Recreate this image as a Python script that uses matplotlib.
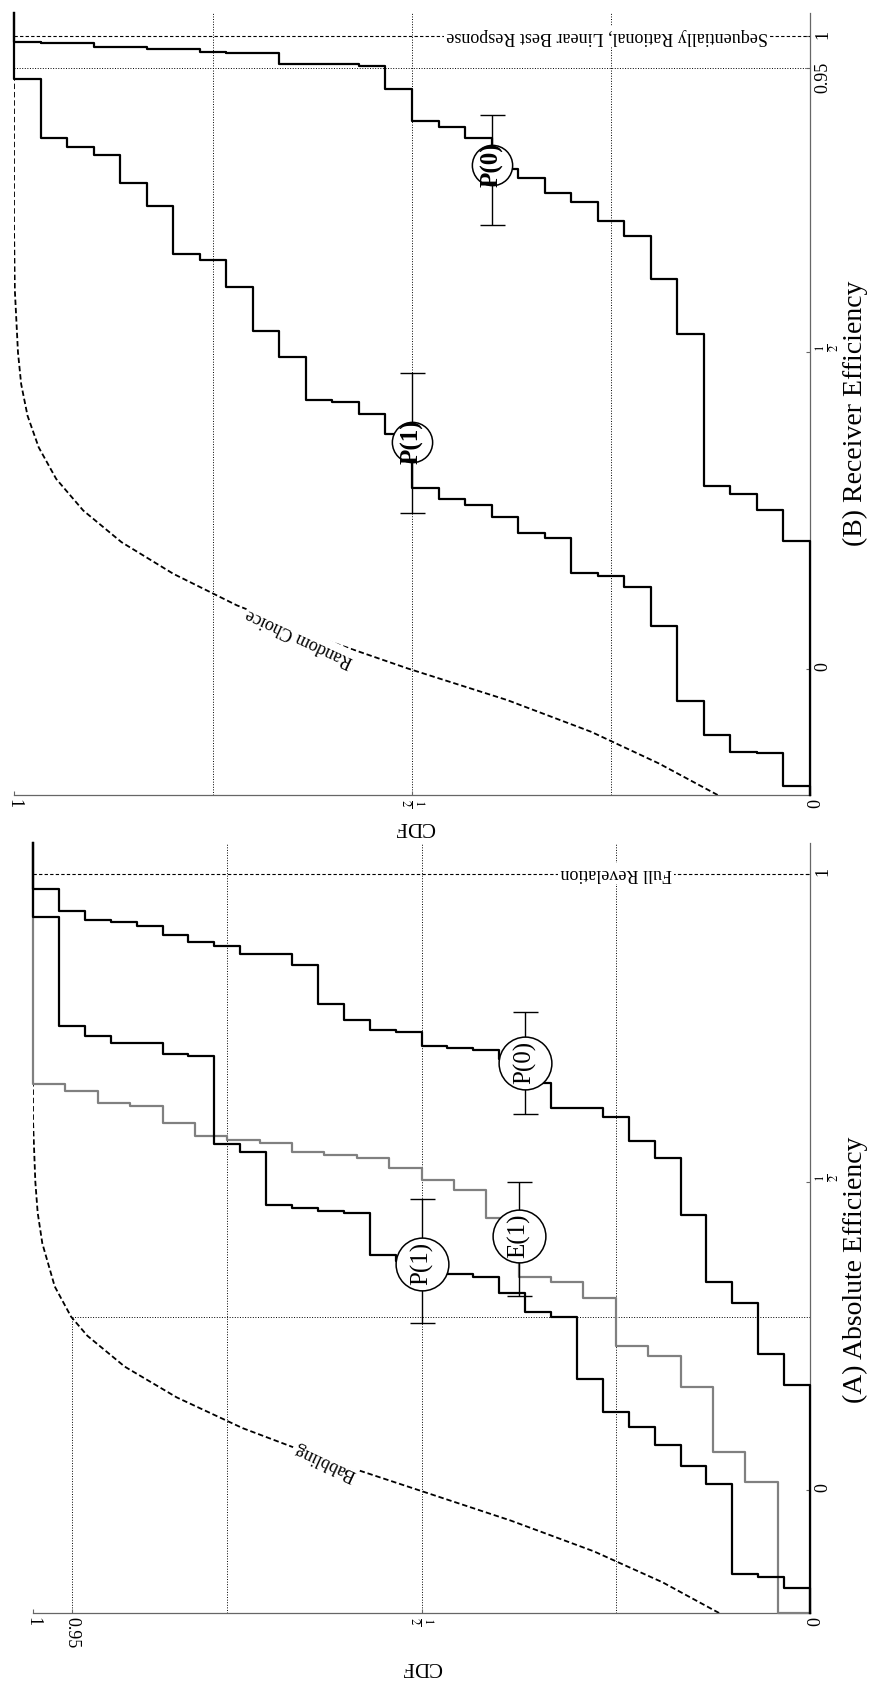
import numpy as np
import matplotlib
matplotlib.use("Agg")
import matplotlib.pyplot as plt

plt.rcParams['font.family'] = ['Liberation Serif', 'DejaVu Serif']
plt.rcParams['mathtext.fontset'] = 'stix'

W, H = 874, 1686
HALF = r'$\frac{1}{2}$'

# (A) absolute efficiency, one value per session
abs_p1 = [-0.159, -0.142, -0.137, 0.009, 0.039, 0.073, 0.102, 0.127, 0.180, 0.281,
          0.289, 0.320, 0.346, 0.351, 0.360, 0.372, 0.381, 0.449, 0.452, 0.457,
          0.462, 0.549, 0.561, 0.705, 0.708, 0.725, 0.725, 0.737, 0.753, 0.930]
abs_p0 = [0.170, 0.220, 0.303, 0.338, 0.446, 0.539, 0.567, 0.606, 0.620, 0.620,
          0.661, 0.700, 0.714, 0.717, 0.720, 0.743, 0.747, 0.763, 0.788, 0.852,
          0.870, 0.870, 0.883, 0.890, 0.901, 0.916, 0.921, 0.925, 0.939, 0.975]
abs_e1 = [-0.250, 0.012, 0.062, 0.167, 0.217, 0.234, 0.311, 0.337, 0.346, 0.442,
          0.487, 0.503, 0.523, 0.539, 0.544, 0.548, 0.563, 0.568, 0.575, 0.596,
          0.623, 0.628, 0.648, 0.659]

babbling_eff = [-0.20, -0.15, -0.10, -0.05, 0.00, 0.05, 0.10, 0.15, 0.20, 0.25,
                0.281, 0.33, 0.40, 0.45, 0.50, 0.60, 1.05]
babbling_cdf = [0.117, 0.19, 0.278, 0.385, 0.505, 0.625, 0.73, 0.815, 0.882, 0.930,
                0.951, 0.972, 0.988, 0.994, 0.997, 1.0, 1.0]
babbling_q95 = 0.281

abs_mark_labels = ['P(1)', 'E(1)', 'P(0)']
abs_mark_cdf = [0.5, 0.375, 0.367]
abs_mark_mean = [0.367, 0.412, 0.693]
abs_mark_lo = [0.271, 0.315, 0.610]
abs_mark_hi = [0.472, 0.500, 0.776]

# (B) receiver efficiency
rec_p1 = [-0.185, -0.134, -0.132, -0.105, -0.052, 0.068, 0.129, 0.146, 0.151, 0.207,
          0.215, 0.239, 0.258, 0.268, 0.285, 0.371, 0.403, 0.422, 0.425, 0.493,
          0.534, 0.603, 0.647, 0.656, 0.732, 0.768, 0.812, 0.825, 0.839, 0.933]
rec_p0 = [0.201, 0.251, 0.276, 0.288, 0.530, 0.617, 0.684, 0.708, 0.738, 0.753,
          0.776, 0.790, 0.840, 0.857, 0.866, 0.917, 0.953, 0.957, 0.957, 0.957,
          0.974, 0.974, 0.976, 0.980, 0.980, 0.983, 0.983, 0.989, 0.989, 0.991]

random_eff = [-0.20, -0.15, -0.10, -0.05, 0.00, 0.05, 0.10, 0.15, 0.20, 0.25,
              0.30, 0.35, 0.40, 0.45, 0.50, 0.60, 0.70, 1.04]
random_cdf = [0.116, 0.19, 0.275, 0.38, 0.505, 0.62, 0.72, 0.80, 0.865, 0.913,
              0.947, 0.969, 0.983, 0.991, 0.995, 0.999, 1.0, 1.0]

rec_mark_labels = ['P(1)', 'P(0)']
rec_mark_cdf = [0.5, 0.40]
rec_mark_mean = [0.359, 0.797]
rec_mark_lo = [0.246, 0.701]
rec_mark_hi = [0.468, 0.875]


def px_axes(fig, left, top, right, bottom):
    return fig.add_axes([left / W, 1 - bottom / H, (right - left) / W, (bottom - top) / H])


def setup(ax, ylim, cdf_ticks, cdf_labels, eff_ticks, eff_labels):
    ax.set_xlim(1, 0)
    ax.set_ylim(*ylim)
    for s in ('top', 'left'):
        ax.spines[s].set_visible(False)
    for s in ('bottom', 'right'):
        ax.spines[s].set_color('#666666')
        ax.spines[s].set_linewidth(0.9)
    ax.xaxis.set_ticks_position('bottom')
    ax.yaxis.set_ticks_position('right')
    ax.set_xticks(cdf_ticks, cdf_labels, rotation=270)
    ax.set_yticks(eff_ticks, eff_labels, rotation=90)
    ax.tick_params(direction='in', length=3, width=0.8, color='#666666',
                   labelsize=13, pad=3)
    for c in (0.25, 0.5, 0.75):
        ax.axvline(c, color='k', ls=':', lw=0.7, zorder=1)


def ecdf_line(ax, values, ylim, **kw):
    n = len(values)
    cdf = np.r_[0, np.arange(1, n + 1) / n, 1]
    eff = np.clip(np.r_[ylim[0], np.sort(values), ylim[1]], *ylim)
    ax.plot(cdf, eff, drawstyle='steps-pre', clip_on=False, zorder=3, **kw)


def badges(ax, labels, cdf, mean, lo, hi, size, weight):
    for lab, c, m, l, h in zip(labels, cdf, mean, lo, hi):
        ax.errorbar([c], [m], yerr=[[m - l], [h - m]], fmt='none', ecolor='k',
                    elinewidth=1.0, capsize=9, capthick=1.0, zorder=4)
        ax.plot([c], [m], 'o', ms=size, mfc='white', mec='k', mew=1.1, zorder=5)
        ax.text(c, m, lab, rotation=90, ha='center', va='center', fontsize=18,
                fontweight=weight, zorder=6)


def curve_label(ax, x, y, text, angle):
    ax.text(x, y, text, rotation=angle, ha='center', va='center', fontsize=13,
            rotation_mode='anchor', zorder=4,
            bbox=dict(fc='white', ec='none', pad=1.5))


fig = plt.figure(figsize=(W / 100, H / 100), dpi=100)

# ---- (A) Absolute Efficiency ----
ylim_a = (-0.2, 1.05)
ax = px_axes(fig, 33, 843, 810, 1613)
setup(ax, ylim_a, [1, 0.95, 0.5, 0], ['1', '0.95', HALF, '0'],
      [0, 0.5, 1], ['0', HALF, '1'])
ax.plot([0.95, 0.95], [ylim_a[0], babbling_q95], color='k', ls=':', lw=0.7, zorder=1)
ax.plot([0.95, 0], [babbling_q95, babbling_q95], color='k', ls=':', lw=0.7, zorder=1)
ax.axhline(1, color='k', ls=(0, (3, 2)), lw=0.8, zorder=2)
curve_label(ax, 0.25, 1.0, 'Full Revelation', 180)
ax.plot(babbling_cdf, babbling_eff, color='k', ls=(0, (3, 1.6)), lw=1.3, zorder=2)
curve_label(ax, 0.624, 0.046, 'Babbling', 155)
ecdf_line(ax, abs_e1, ylim_a, color='#808080', lw=1.6)
ecdf_line(ax, abs_p1, ylim_a, color='k', lw=1.6)
ecdf_line(ax, abs_p0, ylim_a, color='k', lw=1.6)
badges(ax, abs_mark_labels, abs_mark_cdf, abs_mark_mean, abs_mark_lo, abs_mark_hi,
       38, 'normal')
fig.text(855 / W, 1 - 1270 / H, '(A) Absolute Efficiency', rotation=90,
         ha='center', va='center', fontsize=20)
fig.text(422 / W, 1 - 1667 / H, 'CDF', rotation=180, ha='center', va='center',
         fontsize=15)

# ---- (B) Receiver Efficiency ----
ylim_b = (-0.2, 1.037)
ax = px_axes(fig, 14, 13, 810, 795)
setup(ax, ylim_b, [1, 0.5, 0], ['1', HALF, '0'],
      [0, 0.5, 0.95, 1], ['0', HALF, '0.95', '1'])
ax.axhline(0.95, color='k', ls=':', lw=0.7, zorder=1)
ax.axhline(1, color='k', ls=(0, (3, 2)), lw=0.8, zorder=2)
curve_label(ax, 0.255, 1.0, 'Sequentially Rational, Linear Best Response', 180)
ax.plot(random_cdf, random_eff, color='k', ls=(0, (3, 1.6)), lw=1.3, zorder=2)
curve_label(ax, 0.641, 0.049, 'Random Choice', 155)
ecdf_line(ax, rec_p1, ylim_b, color='k', lw=1.6)
ecdf_line(ax, rec_p0, ylim_b, color='k', lw=1.6)
badges(ax, rec_mark_labels, rec_mark_cdf, rec_mark_mean, rec_mark_lo, rec_mark_hi,
       29, 'bold')
fig.text(855 / W, 1 - 413 / H, '(B) Receiver Efficiency', rotation=90,
         ha='center', va='center', fontsize=20)
fig.text(415 / W, 1 - 826 / H, 'CDF', rotation=180, ha='center', va='center',
         fontsize=15)

fig.savefig('out.png', dpi=100)
